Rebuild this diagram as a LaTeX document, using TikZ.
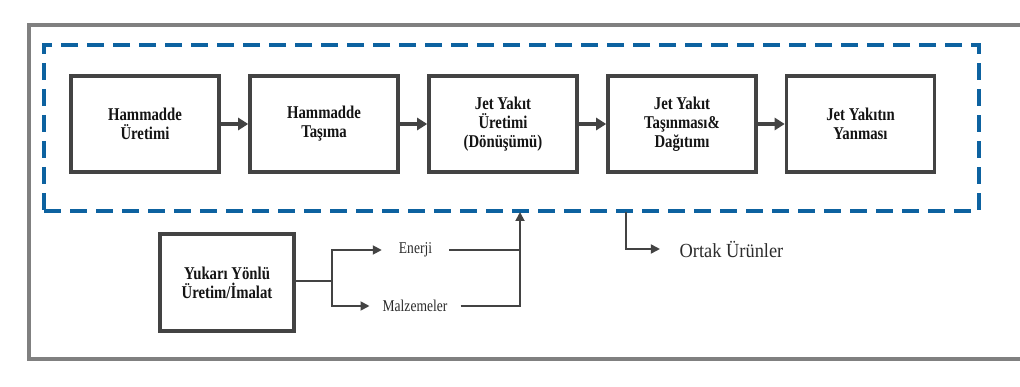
\documentclass[tikz,border=0pt]{standalone}
\usepackage{fontspec}
\setmainfont{Liberation Serif}
\newfontfamily\condserif[FakeStretch=0.82]{Liberation Serif}
\newfontfamily\semiserif[FakeStretch=0.92]{Liberation Serif}
\usetikzlibrary{arrows.meta}
\definecolor{boxgray}{HTML}{434343}
\definecolor{outergray}{HTML}{808080}
\definecolor{sbblue}{HTML}{0D62A0}
\definecolor{txt}{HTML}{141414}
\tikzset{
  stage/.style={draw=boxgray, line width=3.6pt, fill=white, minimum width=148pt, minimum height=96pt,
    align=center, text=txt, font=\condserif\bfseries\fontsize{18}{19}\selectfont, inner sep=2pt},
  bigarrow/.style={draw=boxgray, line width=3.6pt, -{Triangle[length=10pt,width=12pt]}},
  thinarrow/.style={draw=boxgray, line width=1.8pt, -{Triangle[length=9pt,width=9pt]}},
  thinline/.style={draw=boxgray, line width=1.8pt},
  flowlabel/.style={text=txt!90, font=\condserif\fontsize{16.5}{18}\selectfont, inner xsep=15pt, inner ysep=2pt},
}
\begin{document}
\begin{tikzpicture}[x=1pt,y=-1pt]
\useasboundingbox (0,0) rectangle (1020,387);
\clip (0,0) rectangle (1020,387);
% outer system boundary (open to the right edge)
\draw[outergray, line width=3.6pt] (1040,25) -- (29,25) -- (29,359) -- (1040,359);
% dashed boundary
\node[draw=sbblue, line width=3.8pt, dash pattern=on 17pt off 9pt, minimum width=935pt, minimum height=166pt, inner sep=0pt] (sb) at (511.5,128) {};
% main stages
\node[stage] (b1) at (145,124) {Hammadde\\Üretimi};
\node[stage] (b2) at (324,124) {Hammadde\\Taşıma};
\node[stage] (b3) at (503,124) {Jet Yakıt\\Üretimi\\(Dönüşümü)};
\node[stage] (b4) at (682,124) {Jet Yakıt\\Taşınması\&\\Dağıtımı};
\node[stage] (b5) at (860.5,124) {Jet Yakıtın\\Yanması};
\draw[bigarrow] (b1) -- (b2);
\draw[bigarrow] (b2) -- (b3);
\draw[bigarrow] (b3) -- (b4);
\draw[bigarrow] (b4) -- (b5);
% upstream
\node[stage, minimum width=134pt, minimum height=97pt] (yk) at (227,282.5) {Yukarı Yönlü\\Üretim/İmalat};
\coordinate (split) at (332,281);
\node[flowlabel, inner xsep=17pt] (en) at (415.5,250) {Enerji};
\node[flowlabel, inner xsep=13pt] (mz) at (415,306) {Malzemeler};
\coordinate (inp) at (520,212);
\draw[thinline] (yk.east |- split) -- (split);
\draw[thinarrow] (split) |- (en.west);
\draw[thinarrow] (split) |- (mz.west);
\draw[thinline] (en.east) -| (inp |- mz.east);
\draw[thinarrow] (mz.east) -| (inp);
% co-products
\coordinate (outp) at (626,212);
\node[flowlabel, font=\semiserif\fontsize{20}{22}\selectfont, inner xsep=19.5pt] (ou) at (731.5,249) {Ortak Ürünler};
\draw[thinarrow] (outp) |- (ou.west);
\end{tikzpicture}
\end{document}
